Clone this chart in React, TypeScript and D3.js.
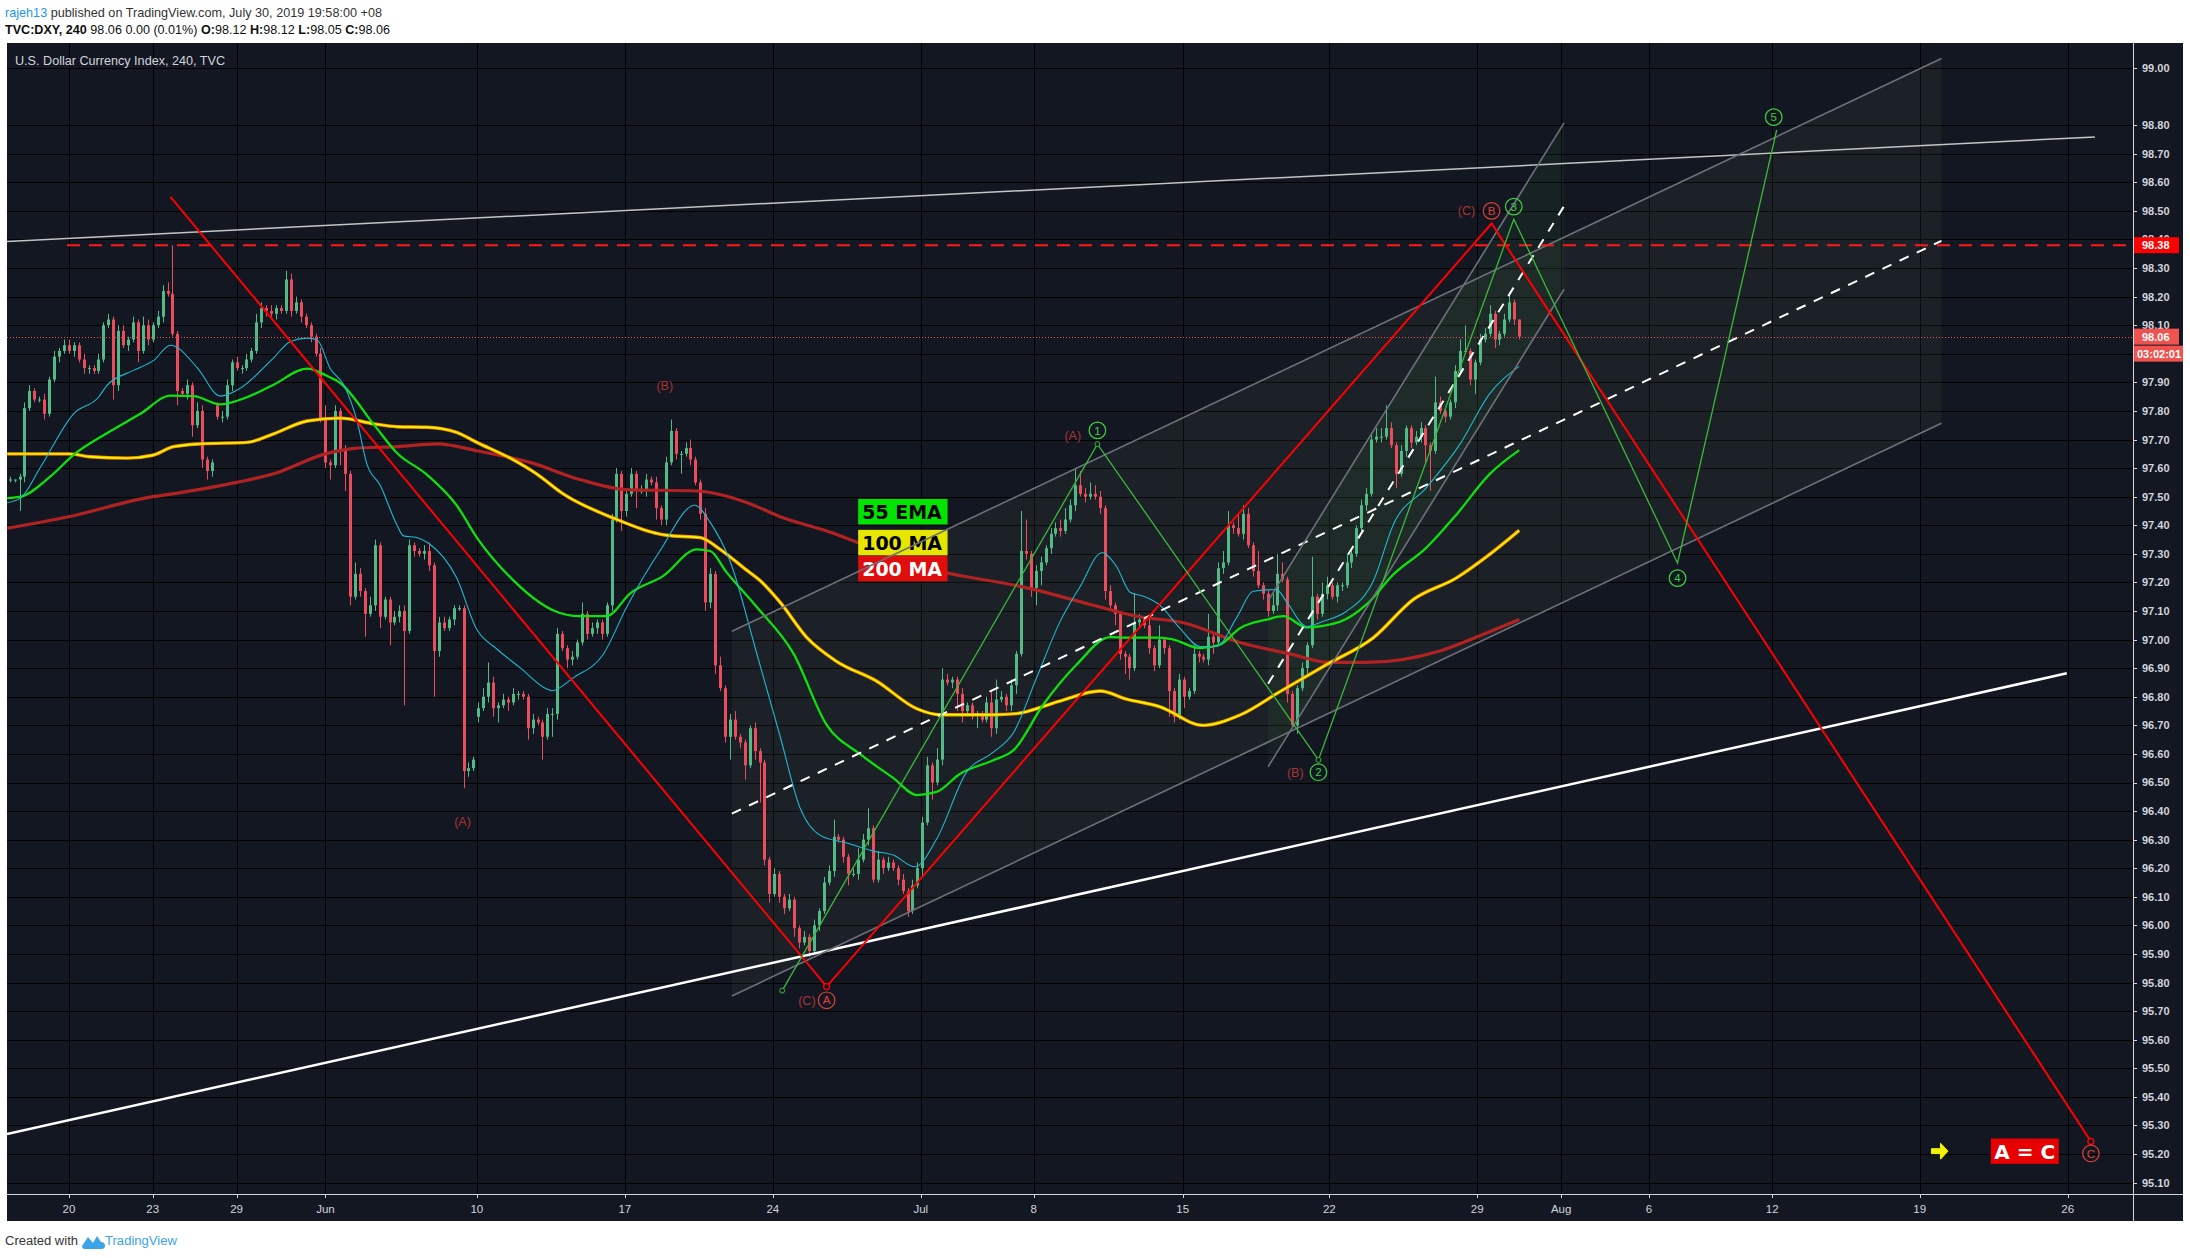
import React from "react";
import * as d3 from "d3";

// ---------------- data ----------------
// 4h closes of DXY, bar 0 = first bar of May 16 2019, last bar = Jul 30 2019
const closes = [
  97.56,97.56,97.57,97.81,97.87,97.84,97.84,97.79,97.91,97.99,
  98.01,98.03,98.01,98.03,97.98,97.95,97.95,97.94,97.98,98.10,
  98.12,97.89,98.08,98.03,98.05,98.11,98.01,98.10,98.05,98.10,
  98.13,98.22,98.21,98.07,97.87,97.86,97.89,97.75,97.80,97.63,
  97.59,97.62,97.78,97.78,97.89,97.97,97.95,97.95,97.98,98.01,
  98.11,98.16,98.15,98.14,98.16,98.15,98.26,98.15,98.18,98.13,
  98.10,98.06,98.00,97.77,97.62,97.61,97.80,97.66,97.58,97.15,
  97.23,97.17,97.09,97.12,97.33,97.08,97.14,97.06,97.08,97.10,
  97.03,97.33,97.31,97.30,97.31,97.26,96.96,97.06,97.04,97.07,
  97.11,97.11,96.54,96.55,96.58,96.76,96.80,96.85,96.76,96.77,
  96.79,96.78,96.81,96.81,96.80,96.69,96.72,96.71,96.66,96.74,
  96.74,97.02,96.97,96.93,96.94,96.99,97.09,97.02,97.04,97.06,
  97.02,97.12,97.42,97.58,97.45,97.51,97.58,97.52,97.52,97.56,
  97.55,97.46,97.42,97.62,97.73,97.65,97.65,97.67,97.63,97.55,
  97.44,97.13,97.23,96.91,96.83,96.66,96.72,96.66,96.64,96.56,
  96.69,96.61,96.57,96.23,96.11,96.18,96.10,96.06,96.09,95.99,
  95.94,95.96,95.91,96.00,96.05,96.15,96.19,96.31,96.30,96.24,
  96.18,96.18,96.23,96.30,96.34,96.16,96.23,96.20,96.22,96.20,
  96.16,96.12,96.05,96.14,96.20,96.36,96.56,96.50,96.58,96.86,
  96.85,96.86,96.81,96.75,96.77,96.74,96.74,96.72,96.78,96.69,
  96.79,96.80,96.77,96.84,96.95,97.31,97.30,97.18,97.24,97.27,
  97.32,97.37,97.39,97.38,97.42,97.47,97.54,97.51,97.50,97.51,
  97.50,97.46,97.17,97.12,97.09,96.95,96.94,96.90,97.06,97.07,
  97.05,96.97,96.91,97.00,96.97,96.82,96.73,96.86,96.80,96.82,
  96.95,96.94,96.93,97.01,96.99,97.25,97.27,97.40,97.39,97.37,
  97.44,97.33,97.24,97.19,97.16,97.10,97.12,97.23,97.21,96.81,
  96.70,96.83,96.90,96.98,97.15,97.09,97.16,97.19,97.15,97.19,
  97.19,97.27,97.30,97.39,97.47,97.51,97.70,97.71,97.71,97.74,
  97.68,97.58,97.66,97.74,97.69,97.71,97.74,97.68,97.66,97.83,
  97.80,97.78,97.83,97.94,98.01,98.01,97.91,97.97,98.05,98.07,
  98.14,98.05,98.07,98.12,98.18,98.12,98.06,
];
// upper / lower wick lengths in hundredths
const wickUp = [
  1,0,1,2,2,1,1,2,1,2, 1,2,2,1,1,2,1,1,2,1, 2,1,2,2,1,2,1,3,2,1, 2,2,3,17,1,1,2,1,3,2,
  1,1,1,2,2,1,2,1,2,1, 3,2,1,2,1,1,3,2,2,1, 1,1,1,2,5,1,2,1,2,1, 4,2,1,3,2,1,1,1,2,2,
  2,2,1,1,2,3,1,2,2,1, 1,1,1,2,1,2,3,7,2,1, 2,1,2,1,1,1,2,1,1,2, 2,2,1,1,2,1,4,1,2,1,
  1,1,2,2,1,2,2,1,2,2, 1,2,1,2,4,1,1,2,3,1, 1,2,2,1,3,1,2,3,1,1, 1,2,1,1,1,2,1,1,2,1,
  1,2,1,2,1,2,2,6,1,1, 1,2,4,2,7,1,3,1,2,1, 1,2,1,2,2,2,3,1,4,4, 2,1,1,2,1,1,1,1,2,4,
  7,2,1,2,1,14,11,1,2,2, 1,2,2,3,4,2,6,5,2,4, 3,2,1,2,1,1,1,1,10,2, 1,3,1,5,1,1,1,2,1,1,
  3,1,1,8,1,2,4,5,1,5, 3,2,1,7,1,1,4,7,4,1, 1,1,2,1,14,1,4,3,1,1, 1,3,1,1,2,2,2,3,3,8,
  2,1,2,1,1,2,2,1,1,9, 2,1,1,2,4,9,1,1,2,2, 3,1,1,2,3,1,0,
];
const wickDn = [
  1,1,11,2,1,1,1,2,1,1, 2,1,1,2,1,2,2,1,1,1, 1,5,2,1,2,1,4,1,2,1, 1,2,1,1,5,1,2,4,1,3,
  3,2,1,2,1,2,1,2,1,1, 1,2,2,1,2,1,1,2,1,2, 1,2,1,1,2,5,1,5,6,3, 1,2,8,1,2,4,1,8,1,2,
  26,1,2,1,2,2,16,2,1,1, 2,1,6,2,1,2,1,2,3,5, 1,3,1,2,1,4,2,1,8,1, 8,2,1,3,2,1,1,2,1,2,
  2,1,2,1,7,2,1,6,1,2, 1,4,2,2,1,2,7,1,2,1, 2,3,2,3,1,2,8,1,2,5, 1,3,14,2,3,1,2,2,1,3,
  2,1,2,1,2,1,1,2,1,2, 4,1,2,1,2,1,1,2,1,1, 2,1,2,1,1,3,1,6,1,2, 1,2,6,4,1,2,5,1,1,3,
  2,1,2,2,3,1,2,3,6,5, 1,2,1,2,1,1,2,1,2,1, 1,2,3,2,4,2,6,4,1,2, 1,2,2,1,2,9,2,1,4,1,
  1,2,1,2,4,1,2,1,2,1, 2,1,2,1,2,2,1,2,1,3, 1,3,1,2,1,2,1,2,1,2, 2,1,2,1,1,2,1,1,2,1,
  1,5,1,2,2,1,2,6,14,1, 1,2,1,2,1,1,2,5,1,1, 1,3,2,1,1,2,1,
];
// bars that opened with a gap: [bar, open]
const gapOpens = [[0, 97.56], [42, 97.82], [95, 96.73]];

// moving averages: [bar, value]
const ema20Pts = [
  [-0.5,97.479],[2.2,97.495],[6.2,97.602],[13,97.791],[18,97.848],[19.7,97.889],[25.1,97.942],[29.2,97.977],
  [32.6,98.03],[38,97.952],[42.7,97.852],[46.7,97.879],[53.5,97.986],[56.9,98.043],[60.3,98.055],[62.3,98.049],
  [65,97.948],[67.7,97.892],[70.4,97.766],[72.4,97.615],[75.1,97.54],[78.5,97.401],[79.8,97.363],[82.5,97.357],
  [84.9,97.337],[90.6,97.216],[94.7,97.035],[98.7,96.968],[103.5,96.901],[108.9,96.827],[109.9,96.821],
  [114.3,96.867],[120.3,96.948],[125.1,97.115],[131.8,97.31],[138.9,97.47],[142,97.41],[146,97.276],
  [151.4,96.954],[156.2,96.66],[160.2,96.412],[164.3,96.315],[169.7,96.288],[175.1,96.26],[179.1,96.246],
  [183.5,96.205],[187.9,96.302],[194,96.537],[199.4,96.606],[203.5,96.675],[208.2,96.868],[212.9,97.062],
  [217,97.186],[221.4,97.304],[224.4,97.255],[227.1,97.166],[229.8,97.152],[233.2,97.12],[237.2,97.04],
  [241.3,96.976],[244.6,96.976],[248.7,97.076],[252.1,97.169],[256.8,97.175],[258.8,97.134],[262.9,97.046],
  [266.3,97.064],[271,97.099],[276.4,97.204],[280.5,97.403],[287.2,97.532],[294,97.684],[300,97.86],[306,97.956],
];
const ema55Pts = [
  [-0.5,97.495],[2.2,97.50],[8.2,97.57],[13,97.647],[19.7,97.722],[26.5,97.79],[32.6,97.854],[37.3,97.852],
  [42.7,97.823],[48.1,97.848],[53.5,97.892],[60.3,97.948],[64.3,97.923],[67,97.898],[73.8,97.753],[78.5,97.653],
  [84.5,97.578],[90.6,97.47],[94.7,97.357],[102,97.209],[107.5,97.129],[110.2,97.102],[115.6,97.082],[121,97.082],
  [125.8,97.162],[132.5,97.223],[139.3,97.316],[142,97.31],[145.3,97.236],[151.4,97.115],[158.9,96.951],
  [165.6,96.702],[172.4,96.599],[179.1,96.516],[183.9,96.456],[187.9,96.467],[192.6,96.53],[199.4,96.578],
  [203.5,96.613],[209.5,96.772],[216.3,96.913],[223.1,97.009],[226.4,97.007],[233.2,97.007],[235.9,97.0],
  [241.3,96.97],[245.3,96.982],[249.4,97.04],[254.8,97.07],[258.2,97.082],[262.9,97.043],[269.6,97.062],
  [275,97.122],[280.5,97.228],[287.2,97.322],[293.3,97.438],[300,97.579],[306,97.663],
];
const ma100Pts = [
  [-0.5,97.65],[12,97.65],[16.3,97.64],[23.8,97.635],[29,97.645],[33.2,97.675],[38.6,97.685],[48.1,97.69],
  [53.5,97.72],[60.3,97.765],[67,97.775],[73.8,97.755],[78.5,97.745],[84.5,97.743],[90.6,97.725],[94.7,97.69],
  [102,97.63],[106.8,97.58],[112.2,97.51],[122.4,97.425],[133.2,97.365],[140,97.357],[144,97.316],[149.4,97.243],
  [152.1,97.207],[156.2,97.13],[161.6,97.007],[167.6,96.924],[175.7,96.855],[183.9,96.758],[188.6,96.737],
  [199.4,96.737],[204.1,96.741],[212.9,96.785],[221,96.82],[226.4,96.792],[233.2,96.765],[241.9,96.70],
  [249.4,96.736],[257.5,96.818],[266.9,96.912],[276.4,97.006],[284.5,97.14],[293.3,97.216],[300,97.298],[306,97.382],
];
const ma200Pts = [
  [-0.5,97.39],[12,97.43],[29,97.50],[33,97.51],[46,97.55],[53.5,97.58],[64,97.65],[70.4,97.67],[78.5,97.675],
  [86.6,97.685],[94.9,97.66],[105.5,97.62],[115.6,97.56],[124.9,97.525],[139.3,97.52],[149.4,97.48],[156.2,97.43],
  [165.6,97.38],[184.9,97.255],[207.8,97.175],[219.7,97.12],[229,97.08],[237.7,97.06],[249.4,96.99],[259.5,96.95],
  [267.5,96.92],[275,96.92],[289.9,96.96],[297.5,97.01],[306,97.07],
];

// axes
const timeTickLabels = ["20","23","29","Jun","10","17","24","Jul","8","15","22","29","Aug","6","12","19","26"];
const timeTickBars = [12,29,46,64,94.7,124.7,154.7,184.7,207.6,237.8,267.5,297.5,314.5,332.3,357.3,387.2,417.2];
// grid / tick prices (98.90 and 98.00 carry no visible label on the reference)
const priceTicks = [99.0,98.8,98.7,98.6,98.5,98.4,98.3,98.2,98.1,98.0,97.9,97.8,97.7,97.6,97.5,97.4,97.3,97.2,97.1,
  97.0,96.9,96.8,96.7,96.6,96.5,96.4,96.3,96.2,96.1,96.0,95.9,95.8,95.7,95.6,95.5,95.4,95.3,95.2,95.1];
const priceLabelTicks = [99.0,98.8,98.7,98.6,98.5,98.4,98.3,98.2,98.1,97.9,97.8,97.7,97.6,97.5,97.4,97.3,97.2,97.1,
  97.0,96.9,96.8,96.7,96.6,96.5,96.4,96.3,96.2,96.1,96.0,95.9,95.8,95.7,95.6,95.5,95.4,95.3,95.2,95.1];
const resistancePrice = 98.38;
const lastPrice = 98.06;
const countdown = "03:02:01";

// drawings: [bar, price]
const grayTopLine = [[-0.55, 98.393], [422.7, 98.759]];
const whiteSupport = [[-0.55, 95.27], [417.0, 96.882]];
const redWave = [[32.6, 98.549], [165.6, 95.786], [300.4, 98.456], [421.9, 95.244]];
const greenWave = [[156.6, 95.772], [220.5, 97.684], [265.3, 96.579], [304.9, 98.471], [338.1, 97.268], [358.2, 98.783]];
const channel1Upper = [[146.4, 97.029], [391.6, 99.033]];
const channel1Lower = [[146.4, 95.753], [391.6, 97.757]];
const channel2Upper = [[255.1, 97.136], [315.1, 98.808]];
const channel2Lower = [[255.1, 96.555], [315.1, 98.226]];
const resistanceStartBar = 11.6;

const waveTexts = ["(C)", "(C)", "(A)", "(B)", "(A)", "(B)"];
const waveTextBars = [161.6, 295.3, 91.8, 132.8, 215.5, 260.6];
const waveTextPrices = [95.738, 98.5, 96.362, 97.888, 97.714, 96.536];
const redCircles = ["A", "B", "C"];
const redCircleBars = [165.6, 300.4, 421.9];
const redCirclePrices = [95.738, 98.5, 95.202];
const greenCircles = ["1", "2", "3", "4", "5"];
const greenCircleBars = [220.5, 265.3, 304.9, 338.1, 357.6];
const greenCirclePrices = [97.732, 96.536, 98.515, 97.215, 98.828];

const legendLabels = ["55 EMA", "100 MA", "200 MA"];
const legendFills = ["#00e400", "#e6e600", "#e00d0d"];
const legendText = ["#000", "#000", "#fff"];
const legendTopPrices = [97.492, 97.384, 97.293];
const legendBar = 172.0;

// ---------------- layout ----------------
const W = 2190, H = 1258;
const PL = 7, PR = 2133, PT = 43, PB = 1194;
const BG = "#131722";
const UP = "#53b987", DN = "#eb4d5c";
const FONT = "'Liberation Sans', Arial, sans-serif";

export default function App() {
  const x = d3.scaleLinear().domain([0, 400]).range([9.7, 9.7 + 400 * 4.933]);
  const y = d3.scaleLinear().domain([95, 99]).range([68 + 4 * 285.8, 68]);

  const candles = closes.map((c, i) => {
    const g = gapOpens.find((q) => q[0] === i);
    const o = g ? g[1] : closes[i - 1];
    return { i, o, c, h: Math.max(o, c) + wickUp[i] / 100, l: Math.min(o, c) - wickDn[i] / 100 };
  });

  const line = d3.line<number[]>().x((d) => x(d[0])).y((d) => y(d[1])).curve(d3.curveMonotoneX);
  const straight = d3.line<number[]>().x((d) => x(d[0])).y((d) => y(d[1]));
  const mid = (a: number[][], b: number[][]) => a.map((p, k) => [p[0], (p[1] + b[k][1]) / 2]);
  const poly = (u: number[][], l: number[][]) =>
    [u[0], u[1], l[1], l[0]].map((p) => `${x(p[0])},${y(p[1])}`).join(" ");

  const aeqcX = x(401.6), aeqcY = y(95.21);
  const arrowX = x(391.2), arrowY = y(95.21);

  return (
    <div style={{ position: "absolute", left: 0, top: 0, width: W, height: H, background: "#fff" }}>
      <svg width={W} height={H} style={{ display: "block" }}>
        <defs>
          <clipPath id="plot">
            <rect x={PL} y={PT} width={PR - PL} height={PB - PT} />
          </clipPath>
        </defs>
        {/* header */}
        <text x={5} y={17} fontFamily={FONT} fontSize={13} textLength={377} lengthAdjust="spacingAndGlyphs">
          <tspan fill="#2196f3">rajeh13</tspan>
          <tspan fill="#333"> published on TradingView.com, July 30, 2019 19:58:00 +08</tspan>
        </text>
        <text x={5} y={34} fontFamily={FONT} fontSize={13} fill="#111" textLength={385} lengthAdjust="spacingAndGlyphs">
          <tspan fontWeight="bold">TVC:DXY, 240</tspan>
          <tspan> 98.06 0.00 (0.01%) </tspan>
          <tspan fontWeight="bold">O:</tspan><tspan>98.12 </tspan>
          <tspan fontWeight="bold">H:</tspan><tspan>98.12 </tspan>
          <tspan fontWeight="bold">L:</tspan><tspan>98.05 </tspan>
          <tspan fontWeight="bold">C:</tspan><tspan>98.06</tspan>
        </text>

        {/* panel */}
        <rect x={PL} y={PT} width={2183 - PL} height={1221 - PT} fill={BG} />

        {/* grid */}
        <g stroke="#000" strokeWidth={1}>
          {priceTicks.map((p) => (
            <line key={p} x1={PL} x2={PR} y1={Math.round(y(p)) + 0.5} y2={Math.round(y(p)) + 0.5} />
          ))}
          {timeTickBars.map((b, k) => (
            <line key={k} x1={Math.round(x(b)) + 0.5} x2={Math.round(x(b)) + 0.5} y1={PT} y2={PB} />
          ))}
        </g>

        <text x={15} y={65} fontFamily={FONT} fontSize={12.5} fill="#d1d4dc" textLength={210} lengthAdjust="spacingAndGlyphs">
          U.S. Dollar Currency Index, 240, TVC
        </text>

        <g clipPath="url(#plot)">
          {/* channel fills */}
          <polygon points={poly(channel1Upper, channel1Lower)} fill="rgba(150,170,120,0.07)" />
          <polygon points={poly(channel2Upper, channel2Lower)} fill="rgba(60,160,60,0.08)" />

          {/* candles */}
          {candles.map((d) => {
            const px = Math.round(x(d.i));
            const col = d.c >= d.o ? UP : DN;
            const top = y(Math.max(d.o, d.c));
            const hgt = Math.max(1, Math.abs(y(d.o) - y(d.c)));
            return (
              <g key={d.i}>
                <line x1={px + 0.5} x2={px + 0.5} y1={y(d.h)} y2={y(d.l)} stroke={col} strokeWidth={1} />
                <rect x={px - 1} y={top} width={3} height={hgt} fill={col} />
              </g>
            );
          })}

          {/* moving averages */}
          <path d={line(ma200Pts) || ""} fill="none" stroke="#b22222" strokeWidth={3.2} />
          <path d={line(ma100Pts) || ""} fill="none" stroke="#ff9800" strokeWidth={3.4} />
          <path d={line(ma100Pts) || ""} fill="none" stroke="#ffff00" strokeWidth={1.4} />
          <path d={line(ema55Pts) || ""} fill="none" stroke="#10e010" strokeWidth={2.3} />
          <path d={line(ema20Pts) || ""} fill="none" stroke="#22b8cf" strokeWidth={1.1} />

          {/* legend boxes */}
          {legendLabels.map((t, k) => {
            const top = y(legendTopPrices[k]);
            return (
              <g key={t}>
                <rect x={x(legendBar)} y={top} width={89.4} height={25.5} fill={legendFills[k]} />
                <text x={x(legendBar) + 4} y={top + 20} fontFamily="'DejaVu Sans', sans-serif" fontWeight="bold"
                  fontSize={19} fill={legendText[k]}>{t}</text>
              </g>
            );
          })}

          {/* trend lines */}
          <path d={straight(grayTopLine) || ""} stroke="#c4c4c4" strokeWidth={1.5} fill="none" />
          <path d={straight(whiteSupport) || ""} stroke="#ffffff" strokeWidth={2.5} fill="none" />
          <path d={straight(channel1Upper) || ""} stroke="#6e7179" strokeWidth={1.6} fill="none" />
          <path d={straight(channel1Lower) || ""} stroke="#6e7179" strokeWidth={1.6} fill="none" />
          <path d={straight(mid(channel1Upper, channel1Lower)) || ""} stroke="#ffffff" strokeWidth={2}
            strokeDasharray="10,9" fill="none" />
          <path d={straight(channel2Upper) || ""} stroke="#6e7179" strokeWidth={1.6} fill="none" />
          <path d={straight(channel2Lower) || ""} stroke="#6e7179" strokeWidth={1.6} fill="none" />
          <path d={straight(mid(channel2Upper, channel2Lower)) || ""} stroke="#ffffff" strokeWidth={2}
            strokeDasharray="10,9" fill="none" />

          {/* resistance + last price lines */}
          <line x1={x(resistanceStartBar)} x2={PR} y1={y(resistancePrice)} y2={y(resistancePrice)}
            stroke="#ff1a1a" strokeWidth={2} strokeDasharray="13,9" />
          <line x1={PL} x2={PR} y1={Math.round(y(lastPrice)) + 0.5} y2={Math.round(y(lastPrice)) + 0.5}
            stroke="#ef5350" strokeWidth={1} strokeDasharray="1,2" />

          {/* wave paths */}
          <path d={straight(redWave) || ""} stroke="#ff0000" strokeWidth={2} fill="none" />
          {[redWave[1], redWave[3]].map((p, k) => (
            <circle key={k} cx={x(p[0])} cy={y(p[1])} r={3} fill={BG} stroke="#ff0000" strokeWidth={1.3} />
          ))}
          <path d={straight(greenWave) || ""} stroke="#3cb83c" strokeWidth={1.3} fill="none" />
          {greenWave.slice(0, 3).map((p, k) => (
            <circle key={k} cx={x(p[0])} cy={y(p[1])} r={2.5} fill={BG} stroke="#3cb83c" strokeWidth={1} />
          ))}

          {/* wave labels */}
          {waveTexts.map((t, k) => (
            <text key={k} x={x(waveTextBars[k])} y={y(waveTextPrices[k])} dy="0.35em" textAnchor="middle"
              fontFamily={FONT} fontSize={12.5} fill="#a83434">{t}</text>
          ))}
          {redCircles.map((t, k) => (
            <g key={t}>
              <circle cx={x(redCircleBars[k])} cy={y(redCirclePrices[k])} r={8.3} fill="none" stroke="#e0403a" strokeWidth={1.2} />
              <text x={x(redCircleBars[k])} y={y(redCirclePrices[k])} dy="0.36em" textAnchor="middle"
                fontFamily={FONT} fontSize={11.5} fill="#e0403a">{t}</text>
            </g>
          ))}
          {greenCircles.map((t, k) => (
            <g key={t}>
              <circle cx={x(greenCircleBars[k])} cy={y(greenCirclePrices[k])} r={8.3} fill="none" stroke="#3fcf3f" strokeWidth={1.2} />
              <text x={x(greenCircleBars[k])} y={y(greenCirclePrices[k])} dy="0.36em" textAnchor="middle"
                fontFamily={FONT} fontSize={11.5} fill="#3fcf3f">{t}</text>
            </g>
          ))}

          {/* A = C */}
          <rect x={aeqcX} y={aeqcY - 12.7} width={68} height={25.4} fill="#e60000" />
          <text x={aeqcX + 34} y={aeqcY + 7.5} textAnchor="middle" fontFamily="'DejaVu Sans', sans-serif"
            fontWeight="bold" fontSize={20} fill="#fff">A = C</text>
          <path transform={`translate(${arrowX},${arrowY})`}
            d="M-8,-2.5 L1,-2.5 L1,-8 L8.5,0 L1,8 L1,2.5 L-8,2.5 Z" fill="#f2f200" stroke="#f2f200"
            strokeWidth={1} strokeLinejoin="round" />
        </g>

        {/* axes separators */}
        <line x1={PL} x2={2183} y1={PB + 0.5} y2={PB + 0.5} stroke="#d1d4dc" strokeWidth={1} />
        <line x1={PR + 0.5} x2={PR + 0.5} y1={PT} y2={1221} stroke="#d1d4dc" strokeWidth={1} />

        {/* price axis */}
        {priceTicks.map((p) => (
          <line key={p} x1={PR} x2={PR + 4} y1={Math.round(y(p)) + 0.5} y2={Math.round(y(p)) + 0.5} stroke="#d1d4dc" />
        ))}
        {priceLabelTicks.map((p) => (
          <text key={p} x={PR + 9} y={y(p)} dy="0.36em" fontFamily={FONT} fontWeight="bold" fontSize={11} fill="#d1d4dc">
            {d3.format(".2f")(p)}
          </text>
        ))}
        <rect x={PR + 1} y={y(resistancePrice) - 8} width={45} height={16} fill="#ff0000" />
        <text x={PR + 9} y={y(resistancePrice)} dy="0.36em" fontFamily={FONT} fontWeight="bold" fontSize={11} fill="#fff">
          {d3.format(".2f")(resistancePrice)}
        </text>
        <rect x={PR + 1} y={y(lastPrice) - 8} width={45} height={16} fill="#ef5350" />
        <text x={PR + 9} y={y(lastPrice)} dy="0.36em" fontFamily={FONT} fontWeight="bold" fontSize={11} fill="#fff">
          {d3.format(".2f")(lastPrice)}
        </text>
        <rect x={PR + 1} y={y(lastPrice) + 9} width={49} height={16} fill="#ef5350" />
        <text x={PR + 4} y={y(lastPrice) + 17} dy="0.36em" fontFamily={FONT} fontWeight="bold" fontSize={11} fill="#fff">
          {countdown}
        </text>

        {/* time axis */}
        {timeTickLabels.map((t, k) => (
          <g key={k}>
            <line x1={Math.round(x(timeTickBars[k])) + 0.5} x2={Math.round(x(timeTickBars[k])) + 0.5}
              y1={PB} y2={PB + 4} stroke="#d1d4dc" />
            <text x={x(timeTickBars[k])} y={1213} textAnchor="middle" fontFamily={FONT} fontSize={11.5} fill="#d1d4dc">
              {t}
            </text>
          </g>
        ))}

        {/* footer */}
        <text x={5} y={1245} fontFamily={FONT} fontSize={12.5} fill="#333" textLength={73} lengthAdjust="spacingAndGlyphs">
          Created with
        </text>
        <g transform="translate(82,1233)" fill="#3ca3e8">
          <path d="M0,13 L6,4 L11,10 L15,3 L19,9 Q23,9 23,13 Q23,16 19,16 L3,16 Q0,16 0,13 Z" />
        </g>
        <text x={105} y={1245} fontFamily={FONT} fontSize={12.5} fill="#3ca3e8" textLength={72} lengthAdjust="spacingAndGlyphs">
          TradingView
        </text>
      </svg>
    </div>
  );
}
